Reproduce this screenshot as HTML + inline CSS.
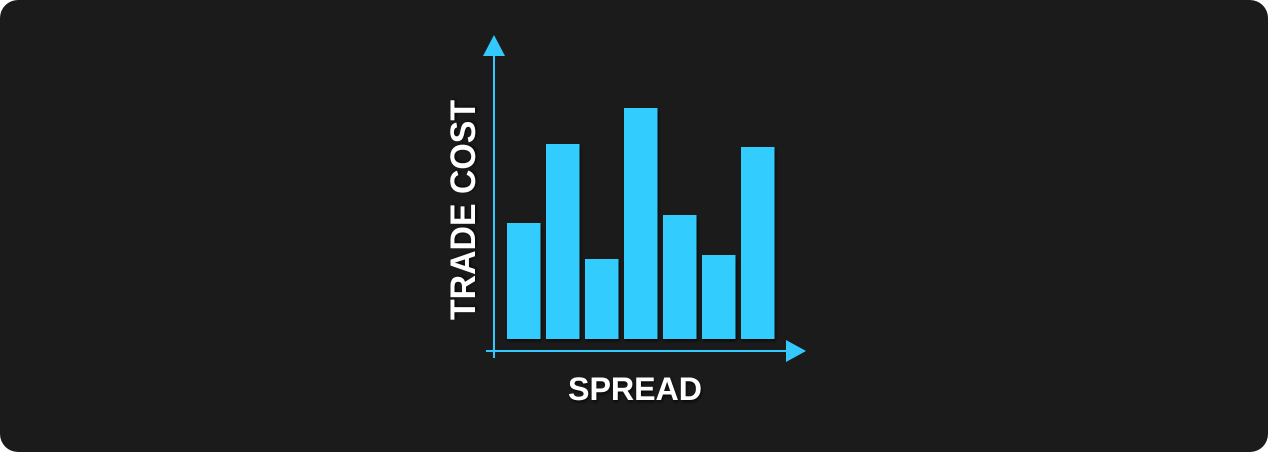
<!DOCTYPE html>
<html><head><meta charset="utf-8"><style>
html,body{margin:0;padding:0;background:#fff;}
#card{position:absolute;left:0;top:0;width:1268px;height:452px;background:#1b1b1b;border-radius:18px;overflow:hidden;}
svg{position:absolute;left:0;top:0;}
text{font-family:"Liberation Sans",sans-serif;fill:#fff;font-weight:bold;}
</style></head><body>
<div id="card">
<svg id="chart" width="1268" height="452">
<defs><filter id="sh" x="-20%" y="-20%" width="140%" height="140%"><feDropShadow dx="1" dy="2" stdDeviation="1.5" flood-color="#000" flood-opacity="0.7"/></filter></defs>
<g id="bars" filter="url(#sh)"></g>
<line x1="494" y1="52" x2="494" y2="358" stroke="#33c9ff" stroke-width="2"/>
<polygon points="494,35 483,56 505,56" fill="#33c9ff"/>
<line x1="486" y1="351" x2="790" y2="351" stroke="#33c9ff" stroke-width="2"/>
<polygon points="806,351 786,340 786,362" fill="#33c9ff"/>
<text x="635" y="400" font-size="32" text-anchor="middle" textLength="134" lengthAdjust="spacingAndGlyphs" filter="url(#sh)">SPREAD</text>
<text transform="translate(475,210) rotate(-90)" font-size="35" text-anchor="middle" textLength="220" lengthAdjust="spacingAndGlyphs" filter="url(#sh)">TRADE COST</text>
</svg>
</div>
<script>
const categories = ["s1","s2","s3","s4","s5","s6","s7"];
const values = [116, 195, 80, 231, 124, 84, 192];
const yMax = 250;
const baseY = 339, plotH = 250, x0 = 507, pitch = 39, barW = 33.5;
function yScale(v){ return baseY - v / yMax * plotH; }
function xScale(i){ return x0 + i * pitch; }
const g = document.getElementById('bars');
categories.forEach((c, i) => {
  const r = document.createElementNS('http://www.w3.org/2000/svg', 'rect');
  r.setAttribute('x', xScale(i));
  r.setAttribute('y', yScale(values[i]));
  r.setAttribute('width', barW);
  r.setAttribute('height', baseY - yScale(values[i]));
  r.setAttribute('fill', '#33ccff');
  
  
  g.appendChild(r);
});
</script>
</body></html>
